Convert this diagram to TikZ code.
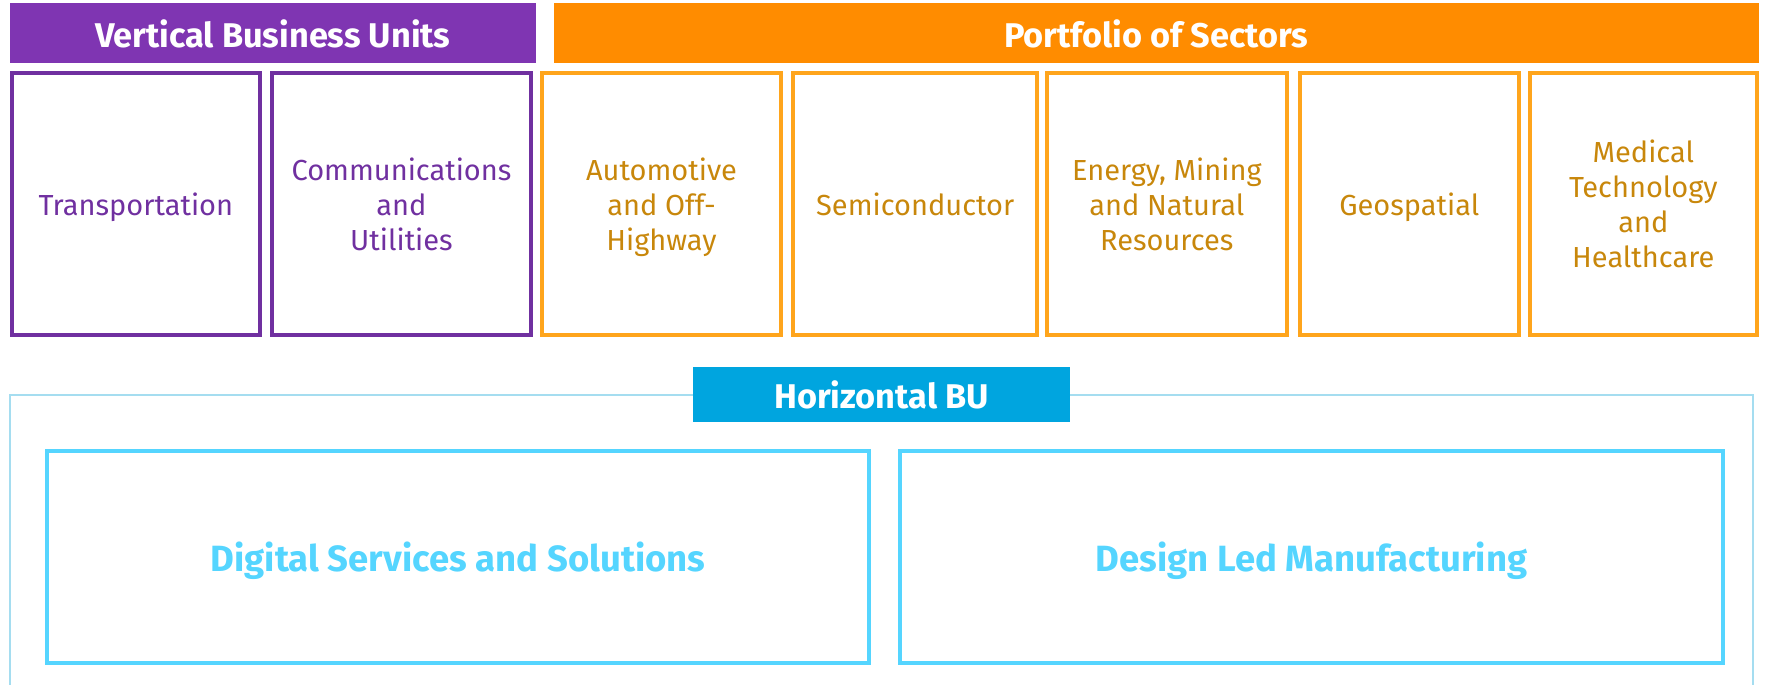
\documentclass[tikz,border=0pt]{standalone}
\usepackage{fontspec}
\setmainfont{Fira Sans}
\definecolor{purphdr}{HTML}{7F35B2}
\definecolor{purpline}{HTML}{7030A0}
\definecolor{orghdr}{HTML}{FF8C00}
\definecolor{orgline}{HTML}{FFA51C}
\definecolor{orgtext}{HTML}{C8870B}
\definecolor{bluehdr}{HTML}{00A5DF}
\definecolor{lblue}{HTML}{55D5FF}
\definecolor{outerblue}{HTML}{A5DDF0}
\tikzset{
  hdr/.style={fill=#1, draw=none, inner sep=0pt, text=white,
    font=\fontsize{34.3}{40}\selectfont\bfseries},
  vbox/.style={draw=purpline, line width=4pt, inner sep=0pt, text=purpline,
    minimum height=262pt, font=\fontsize{29}{35}\selectfont},
  sbox/.style={draw=orgline, line width=4pt, inner sep=0pt, text=orgtext,
    minimum height=262pt, font=\fontsize{29}{35}\selectfont},
  hbox/.style={draw=lblue, line width=4pt, inner sep=0pt, text=lblue,
    minimum width=822.7pt, minimum height=212pt, text depth=0pt,
    font=\fontsize{36.5}{40}\selectfont\bfseries},
}
\begin{document}
\begin{tikzpicture}[x=1pt,y=-1pt]
\useasboundingbox (0,0) rectangle (1765,685);
\clip (0,0) rectangle (1765,685);
% headers
\node[hdr=purphdr, minimum width=526.4pt, minimum height=60pt] (vhdr) at (272.8,33.5) {Vertical Business Units};
\node[hdr=orghdr, minimum width=1205.5pt, minimum height=60pt] (shdr) at (1156.3,33.5) {Portfolio of Sectors};
% vertical BUs
\node[vbox, minimum width=248.4pt, text depth=0pt] (trans) at (135.8,204) {Transportation};
\node[vbox, minimum width=259pt, align=center] (comm) at (401.5,204) {Communications\\and\\Utilities};
% sectors
\node[sbox, minimum width=239pt, align=center, text depth=0pt] (auto) at (661.5,204) {Automotive\\and Off-\\Highway};
\node[sbox, minimum width=243.6pt] (semi) at (915.2,204) {Semiconductor};
\node[sbox, minimum width=240.4pt, align=center] (energy) at (1166.8,204) {Energy, Mining\\and Natural\\Resources};
\node[sbox, minimum width=218.6pt, text depth=0pt] (geo) at (1409.3,204) {Geospatial};
\node[sbox, minimum width=226.6pt, align=center] (med) at (1643.3,204) {Medical\\Technology\\and\\Healthcare};
% horizontal BU frame
\coordinate (fbl) at (9.6,720);
\coordinate (ftl) at (9.6,394.5);
\coordinate (ftr) at (1753.2,394.5);
\coordinate (fbr) at (1753.2,720);
\draw[outerblue, line width=2pt] (fbl) -- (ftl) -- (ftr) -- (fbr);
\node[hdr=bluehdr, minimum width=377pt, minimum height=55pt] (hhdr) at (881.5,394.5) {Horizontal BU};
\node[hbox] (dss) at (458.1,557) {Digital Services and Solutions};
\node[hbox] (dlm) at (1311.4,557) {Design Led Manufacturing};
\end{tikzpicture}
\end{document}
